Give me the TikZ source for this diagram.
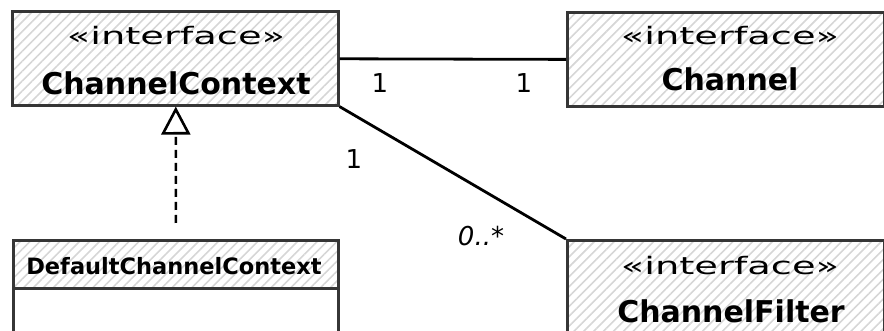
\documentclass[tikz,border=0pt]{standalone}
\usepackage{fontspec}
\setmainfont{DejaVu Sans}
\newfontfamily\stereofont[FakeStretch=1.6]{DejaVu Sans}
\usetikzlibrary{arrows.meta,patterns.meta}
\definecolor{boxline}{HTML}{363636}
\definecolor{hatchgray}{HTML}{D6D6D6}

\begin{document}
\begin{tikzpicture}[x=1pt,y=-1pt,
  umlbox/.style={draw=boxline, line width=2.8pt, rectangle, inner sep=0pt, anchor=north west},
  hatched/.style={pattern={Lines[angle=45,distance=7pt,line width=1.6pt]}, pattern color=hatchgray},
  stereo/.style={anchor=base, inner sep=0pt, font=\stereofont\fontsize{24}{28}\selectfont},
  cname/.style={anchor=base, inner sep=0pt, font=\bfseries\fontsize{30}{34}\selectfont},
  smallname/.style={anchor=base, inner sep=0pt, font=\bfseries\fontsize{22.5}{26}\selectfont},
  mult/.style={anchor=base, inner sep=0pt, font=\fontsize{26}{30}\selectfont},
  conn/.style={draw=black, line width=2.8pt},
  realize/.style={draw=black, line width=2.6pt, dash pattern=on 8pt off 5pt,
    -{Triangle[open, length=28pt, width=29pt, line width=2.6pt]}},
]
\useasboundingbox (0,0) rectangle (884,331);
\clip (0,0) rectangle (884,331);

% class boxes
\node[umlbox, hatched, minimum width=326pt, minimum height=94pt] (cc) at (12,11) {};
\node[umlbox, hatched, minimum width=317pt, minimum height=94pt] (ch) at (566,11) {};
\node[umlbox, hatched, minimum width=317pt, minimum height=120pt] (cf) at (566,239) {};
\node[umlbox, hatched, minimum width=325pt, minimum height=48pt] (dh) at (12,239) {};
\node[umlbox, minimum width=325pt, minimum height=70pt] (db) at (12,287) {};

% class texts
\node[stereo] (ccs) at (176,45) {«interface»};
\node[cname]  (ccn) at (176,95) {ChannelContext};
\node[stereo] (chs) at (730,45) {«interface»};
\node[cname]  (chn) at (730,91) {Channel};
\node[stereo] (cfs) at (730,275) {«interface»};
\node[cname]  (cfn) at (731,322) {ChannelFilter};
\node[smallname] (dhn) at (174,275) {DefaultChannelContext};

% associations
\draw[conn] (cc.east) -- (ch.west);
\draw[conn] (cc.south east) -- (cf.north west);

% realization
\coordinate (rs) at ([yshift=16pt]dh.north);
\draw[realize] (rs) -- (cc.south);

% multiplicities
\node[mult] (m1) at (380,93) {1};
\node[mult] (m2) at (524,93) {1};
\node[mult] (m3) at (354,169) {1};
\node[mult, font=\itshape\fontsize{26}{30}\selectfont] (m4) at (481,246) {0..*};
\end{tikzpicture}
\end{document}
